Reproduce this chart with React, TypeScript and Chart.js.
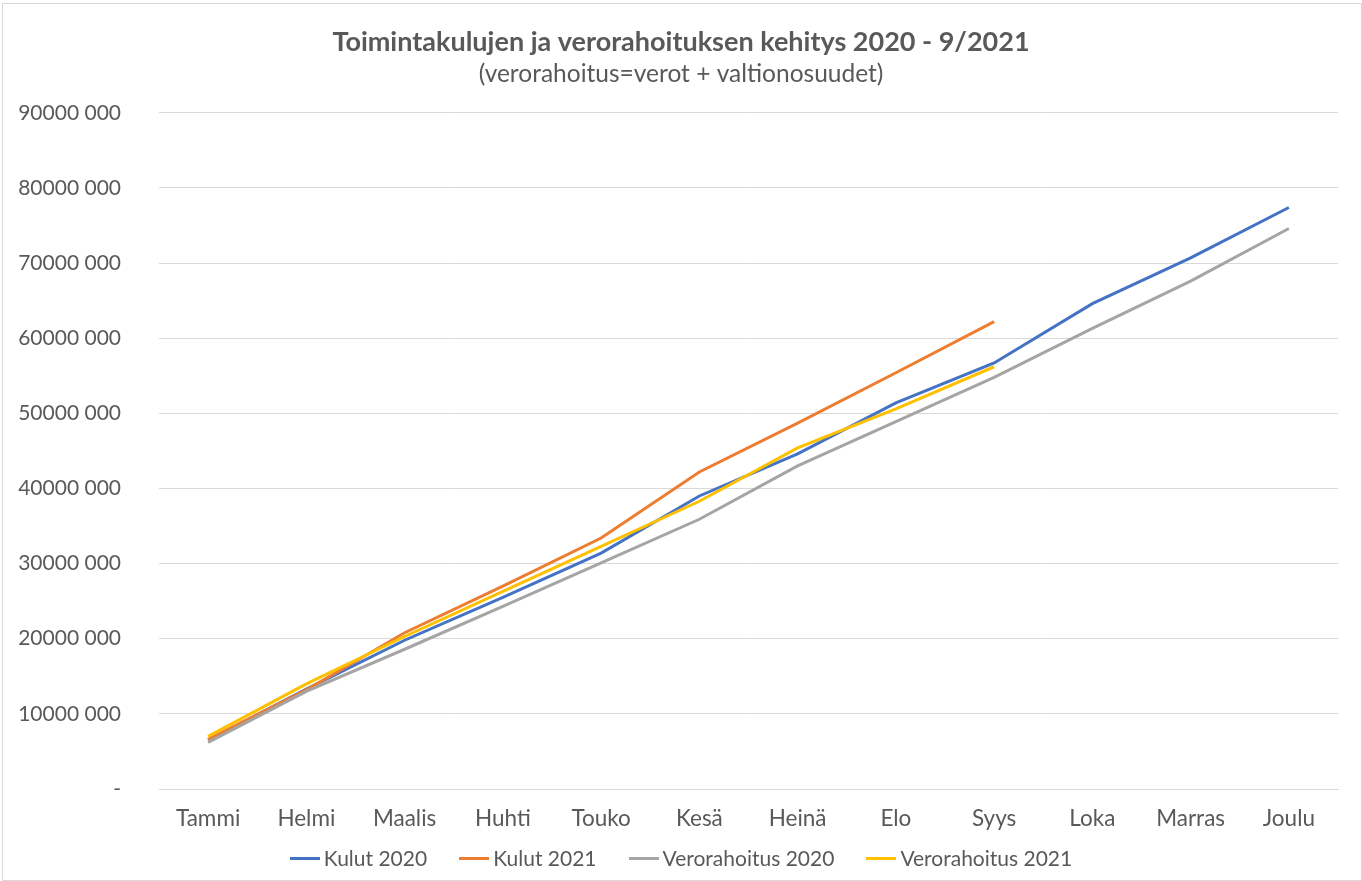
import React, { useEffect, useRef } from "react";
import { Chart, registerables } from "chart.js";

Chart.register(...registerables);

const months = ["Tammi", "Helmi", "Maalis", "Huhti", "Touko", "Kesä", "Heinä", "Elo", "Syys", "Loka", "Marras", "Joulu"];
const kulut2020 = [6500000, 13300000, 19800000, 25500000, 31400000, 39000000, 44600000, 51400000, 56700000, 64600000, 70700000, 77400000];
const kulut2021 = [6600000, 13200000, 20800000, 27000000, 33400000, 42200000, 48700000, 55400000, 62200000];
const vero2020 = [6200000, 13000000, 18600000, 24300000, 30100000, 35900000, 43000000, 48900000, 54800000, 61300000, 67600000, 74600000];
const vero2021 = [7000000, 14000000, 20300000, 26300000, 32300000, 38300000, 45400000, 50600000, 56200000];
const seriesNames = ["Kulut 2020", "Kulut 2021", "Verorahoitus 2020", "Verorahoitus 2021"];
const seriesColors = ["#4472C4", "#ED7D31", "#A5A5A5", "#FFC000"];
const yTicksMax = 90000000;

const FONT = "Lato";
const GREY = "#595959";

export default function App() {
  const ref = useRef<HTMLCanvasElement>(null);
  useEffect(() => {
    document.body.style.margin = "0";
    const ctx = ref.current!;
    const values = [kulut2020, kulut2021, vero2020, vero2021];
    const chart = new Chart(ctx, {
      type: "line",
      data: {
        labels: months,
        datasets: values.map((data, i) => ({
          label: seriesNames[i],
          data,
          borderColor: seriesColors[i],
          backgroundColor: seriesColors[i],
          borderWidth: 3,
          pointRadius: 0,
          tension: 0,
          order: values.length - i,
        })),
      },
      options: {
        animation: false,
        responsive: false,
        layout: { padding: { left: 0, right: 0, top: 0, bottom: 48 } },
        plugins: {
          title: {
            display: true,
            text: "Toimintakulujen ja verorahoituksen kehitys 2020 - 9/2021",
            color: GREY,
            font: { family: FONT, size: 27, weight: "bold" },
            padding: { top: 26, bottom: 1 },
          },
          subtitle: {
            display: true,
            text: "(verorahoitus=verot + valtionosuudet)",
            color: GREY,
            font: { family: FONT, size: 24.5 },
            padding: { top: 0, bottom: 24 },
          },
          legend: { display: false },
          tooltip: { enabled: false },
        },
        scales: {
          x: {
            offset: true,
            afterFit: (s: any) => { s.height = 44; },
            grid: { display: false, drawTicks: false },
            border: { color: "#d9d9d9", width: 1 },
            ticks: { color: GREY, font: { family: FONT, size: 22.5 }, padding: 16.5, maxRotation: 0 },
          },
          y: {
            min: 0,
            max: yTicksMax,
            afterFit: (s: any) => { s.width = 159; },
            grid: { color: "#d9d9d9", drawTicks: false },
            border: { display: false },
            ticks: {
              stepSize: 10000000,
              color: GREY,
              font: { family: FONT, size: 21 },
              padding: 38,
              callback: (v: any) => (v === 0 ? "-" : Math.round(v / 1000) + " 000"),
            },
          },
          yRight: {
            position: "right",
            min: 0,
            max: yTicksMax,
            afterFit: (s: any) => { s.width = 24; },
            grid: { display: false, drawTicks: false },
            border: { display: false },
            ticks: { display: false },
          },
        },
      },
    });
    return () => chart.destroy();
  }, []);
  return (
    <div style={{ position: "relative", width: 1362, height: 881, background: "#fff" }}>
      <canvas ref={ref} width={1362} height={881} style={{ display: "block" }} />
      <div
        style={{
          position: "absolute",
          left: 0,
          width: 1362,
          top: 858 - 13,
          height: 26,
          display: "flex",
          justifyContent: "center",
          alignItems: "center",
          gap: 32,
          fontFamily: FONT,
          fontSize: 21,
          color: GREY,
          lineHeight: "26px",
        }}
      >
        {seriesNames.map((name, i) => (
          <div key={name} style={{ display: "flex", alignItems: "center" }}>
            <span style={{ display: "inline-block", width: 30, height: 3, background: seriesColors[i], marginRight: 4 }} />
            <span>{name}</span>
          </div>
        ))}
      </div>
      <div style={{ position: "absolute", left: 2, top: 3, right: 0, bottom: 0, border: "1px solid #d9d9d9", pointerEvents: "none" }} />
    </div>
  );
}
